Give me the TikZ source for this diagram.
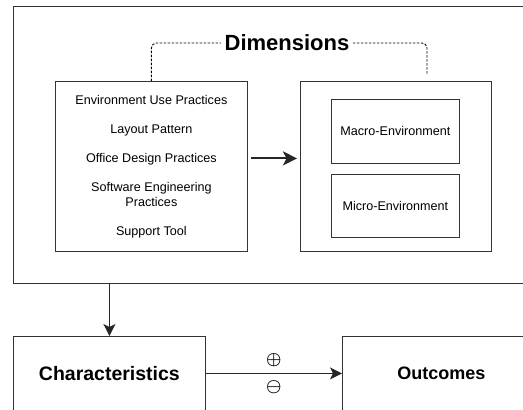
\documentclass[tikz,border=0pt]{standalone}
\usepackage{fontspec}
\usepackage{bm}
\setmainfont{Liberation Sans}
\usetikzlibrary{arrows.meta}
\tikzset{box/.style={draw=black!80,line width=0.8pt,rectangle,anchor=north west,inner sep=0pt},
         link/.style={draw=black!85,line width=0.9pt,-{Stealth[length=12pt,width=12pt,inset=3pt]}},
         dimline/.style={draw=black,line width=0.9pt,dashed,dash pattern=on 2.5pt off 1.5pt,rounded corners=5pt}}

\begin{document}
\begin{tikzpicture}
        [x=1pt,y=-1pt,every node/.style={font=\fontsize{12.6}{15}\selectfont}]
        % the page is fixed to the size of the reference
        \clip (0,0) rectangle (523,410);
        \fill[white] (0,0) rectangle (523,410);

        \node[box,minimum width=527pt,minimum height=277pt] (dimbox) at (13,6) {};
        \node[box,minimum width=192pt,minimum height=170pt,align=center] (practices) at (55,81)
             {Environment Use Practices\\[14pt] Layout Pattern\\[14pt] Office Design Practices\\[14pt]
              Software Engineering\\ Practices\\[14pt] Support Tool};
        \node[box,minimum width=191pt,minimum height=170pt] (env) at (300,81) {};
        \node[box,minimum width=128pt,minimum height=64pt] (macro) at (331,99) {};
        \node[box,minimum width=128pt,minimum height=63pt] (micro) at (331,174) {};
        \node at (macro.center) {Macro-Environment};
        \node at (micro.center) {Micro-Environment};

        \node[font=\fontsize{22}{24}\selectfont\bfseries] (dims) at (287,43) {Dimensions};
        \coordinate (dimend) at (427,75);

        \node[box,minimum width=192pt,minimum height=74pt,font=\fontsize{19.5}{22}\selectfont\bfseries] (char) at (13,336) {Characteristics};
        \node[box,minimum width=198pt,minimum height=74pt,font=\fontsize{18}{20}\selectfont\bfseries] (out) at (342,336) {Outcomes};

        % dashed bracket round the two dimension boxes
        \draw[dimline] (practices.north) |- (dims.west);
        \draw[dimline] (dims.east) -| (dimend);

        \draw[link,line width=2pt,-{Stealth[length=14pt,width=14pt,inset=3.5pt]}] ([xshift=3pt,yshift=8pt]practices.east) -- ([xshift=-3pt,yshift=8pt]env.west);
        \draw[link] (char.north |- dimbox.south) -- (char.north);
        \draw[link] (char.east) -- (out.west)
              node[midway,above=3pt,font=\fontsize{17}{17}\selectfont] (plus) {$\bm\oplus$}
              node[midway,below=3pt,font=\fontsize{17}{17}\selectfont] (minus) {$\bm\ominus$};
      \end{tikzpicture}
\end{document}
